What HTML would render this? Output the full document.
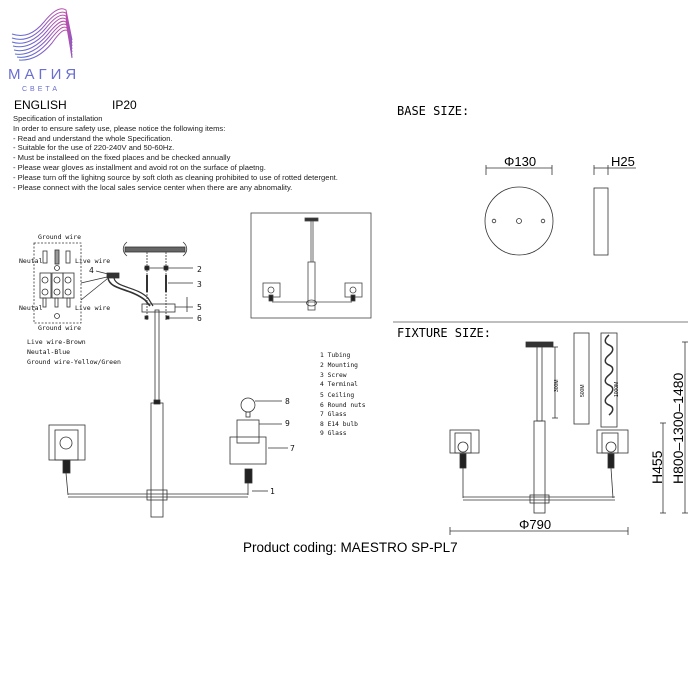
<!DOCTYPE html>
<html><head><meta charset="utf-8"><style>
body{margin:0;background:#fff;}
svg{display:block}
.m{font-family:"DejaVu Sans Mono","Liberation Mono",monospace;}
.s{font-family:"Liberation Sans",sans-serif;}
</style></head><body>
<svg width="700" height="700" viewBox="0 0 700 700" xmlns="http://www.w3.org/2000/svg">
<defs><linearGradient id="g" x1="0" y1="1" x2="1" y2="0"><stop offset="0" stop-color="#5a6fd8"/><stop offset="1" stop-color="#c04aa8"/></linearGradient></defs>
<rect width="700" height="700" fill="#fff"/>
<!-- logo -->
<g fill="none" stroke="url(#g)" stroke-width="1">
<path d="M12,34 C24,38 34,34 44,22 C52,12 60,6 66,10 L72,40"/>
<path d="M12,38 C24,42 35,37 45,25 C53,15 60,10 66,13 L72,43"/>
<path d="M12,42 C24,46 36,40 46,28 C54,18 61,13 66,16 L72,46"/>
<path d="M13,46 C25,49 37,43 47,31 C55,21 61,16 66,19 L72,49"/>
<path d="M14,50 C26,53 38,46 48,34 C56,24 62,19 66,22 L72,52"/>
<path d="M15,54 C27,56 39,49 49,37 C57,27 62,22 67,25 L72,55"/>
<path d="M17,57 C29,59 40,52 50,40 C58,30 63,25 67,28 L72,57"/>
<path d="M19,60 C31,61 42,55 52,43 C59,33 64,28 68,31 L72,58"/>
</g>
<text x="8" y="79" class="s" font-size="15" fill="#6a6fd0" letter-spacing="4">МАГИЯ</text>
<text x="22" y="91" class="s" font-size="7" fill="#6a6fd0" letter-spacing="3">СВЕТА</text>
<!-- text -->
<text x="14" y="109" class="s" font-size="12">ENGLISH</text>
<text x="112" y="109" class="s" font-size="12">IP20</text>
<g class="s" font-size="7.6" fill="#222">
<text x="13" y="121">Specification of installation</text>
<text x="13" y="131">In order to ensure safety use, please notice the following items:</text>
<text x="13" y="141">- Read and understand the whole Specification.</text>
<text x="13" y="150">- Suitable for the use of 220-240V and 50-60Hz.</text>
<text x="13" y="160">- Must be installeed on the fixed places and be checked annually</text>
<text x="13" y="170">- Please wear gloves as installment and avoid rot on the surface of plaetng.</text>
<text x="13" y="180">- Please turn off the lighitng source by soft cloth as cleaning prohibited to use of rotted detergent.</text>
<text x="13" y="190">- Please connect with the local sales service center when there are any abnomality.</text>
</g>
<!-- base size -->
<text x="397" y="115" class="m" font-size="12">BASE SIZE:</text>
<g stroke="#333" fill="none" stroke-width="0.8">
<line x1="486" y1="168" x2="552" y2="168"/><line x1="486" y1="165" x2="486" y2="175"/><line x1="552" y1="165" x2="552" y2="175"/>
<line x1="594" y1="168" x2="608" y2="168"/><line x1="594" y1="165" x2="594" y2="175"/><line x1="608" y1="165" x2="608" y2="175"/><line x1="608" y1="168" x2="636" y2="168"/>
<circle cx="519" cy="221" r="34"/><circle cx="494" cy="221" r="1.8"/><circle cx="519" cy="221" r="2.5"/><circle cx="543" cy="221" r="1.8"/>
<rect x="594" y="188" width="14" height="67"/>
</g>
<text x="504" y="166" class="s" font-size="13">Φ130</text>
<text x="611" y="166" class="s" font-size="13">H25</text>
<!-- fixture size -->
<line x1="393" y1="322" x2="688" y2="322" stroke="#555" stroke-width="0.8"/>
<text x="397" y="337" class="m" font-size="12">FIXTURE SIZE:</text>
<g stroke="#333" fill="none" stroke-width="0.8">
<rect x="526" y="342" width="27" height="5" fill="#333"/>
<rect x="537" y="347" width="5" height="74" fill="#fff"/>
<rect x="534" y="421" width="11" height="92"/>
<rect x="530" y="495" width="19" height="8"/>
<line x1="463" y1="497" x2="615" y2="497"/><line x1="463" y1="500" x2="615" y2="500"/>
<rect x="450" y="430" width="29" height="23"/><rect x="455" y="433" width="16" height="20"/><circle cx="463" cy="447" r="5"/>
<rect x="460" y="454" width="6" height="14" fill="#222"/><line x1="463" y1="468" x2="463" y2="498"/>
<rect x="597" y="430" width="31" height="23"/><rect x="602" y="433" width="16" height="20"/><circle cx="611" cy="447" r="5"/>
<rect x="608" y="454" width="6" height="14" fill="#222"/><line x1="611" y1="468" x2="613" y2="498"/>
<line x1="555" y1="347" x2="555" y2="418"/><line x1="552" y1="347" x2="558" y2="347"/><line x1="552" y1="418" x2="558" y2="418"/>
<rect x="574" y="333" width="15" height="91"/>
<rect x="601" y="333" width="16" height="94"/>
<path d="M609,335 c-5,4 -5,8 0,10 c5,2 5,6 0,10 c-5,4 -5,8 0,10 c5,2 5,6 0,10 c-5,4 -5,8 0,10 c5,2 5,6 0,10 c-5,4 -5,8 0,10 c5,2 5,6 0,10" stroke-width="1.5"/>
<line x1="450" y1="531" x2="628" y2="531"/><line x1="450" y1="527" x2="450" y2="535"/><line x1="628" y1="527" x2="628" y2="535"/>
<line x1="663" y1="423" x2="663" y2="513"/><line x1="660" y1="423" x2="666" y2="423"/><line x1="660" y1="513" x2="666" y2="513"/>
<line x1="685" y1="342" x2="685" y2="513"/><line x1="682" y1="342" x2="688" y2="342"/><line x1="682" y1="513" x2="688" y2="513"/>
</g>
<text x="519" y="529" class="s" font-size="13">Φ790</text>
<g class="s" font-size="5">
<text transform="translate(558,392) rotate(-90)">300M</text>
<text transform="translate(584,397) rotate(-90)">500M</text>
<text transform="translate(618,397) rotate(-90)">1000M</text>
</g>
<text transform="translate(662,484) rotate(-90)" class="s" font-size="14">H455</text>
<text transform="translate(683,484) rotate(-90)" class="s" font-size="14">H800–1300–1480</text>
<!-- inset -->
<g stroke="#444" fill="none" stroke-width="0.8">
<rect x="251" y="213" width="120" height="105"/>
<rect x="305" y="218" width="13" height="3" fill="#333"/>
<line x1="311" y1="221" x2="311" y2="262"/><line x1="313" y1="221" x2="313" y2="262"/>
<rect x="308" y="262" width="7" height="48"/>
<ellipse cx="311.5" cy="303" rx="5" ry="3"/>
<line x1="272" y1="302" x2="352" y2="302"/>
<rect x="263" y="283" width="17" height="14"/><circle cx="271" cy="290" r="3"/><rect x="269" y="295" width="4" height="6" fill="#222"/>
<rect x="345" y="283" width="17" height="14"/><circle cx="353" cy="290" r="3"/><rect x="351" y="295" width="4" height="6" fill="#222"/>
</g>
<!-- wiring -->
<g class="m" font-size="6.5" fill="#111">
<text x="38" y="239">Ground wire</text>
<text x="19" y="263">Neutal</text><text x="75" y="263">Live wire</text>
<text x="19" y="310">Neutal</text><text x="75" y="310">Live wire</text>
<text x="38" y="330">Ground wire</text>
<text x="27" y="344">Live wire-Brown</text>
<text x="27" y="354">Neutal-Blue</text>
<text x="27" y="364">Ground wire-Yellow/Green</text>
<text x="89" y="273" font-size="8">4</text>
<text x="197" y="272" font-size="8">2</text>
<text x="197" y="287" font-size="8">3</text>
<text x="197" y="310" font-size="8">5</text>
<text x="197" y="321" font-size="8">6</text>
<text x="285" y="404" font-size="8">8</text>
<text x="285" y="426" font-size="8">9</text>
<text x="290" y="451" font-size="8">7</text>
<text x="270" y="494" font-size="8">1</text>
</g>
<g class="m" font-size="6.3" fill="#111">
<text x="320" y="357">1 Tubing</text><text x="320" y="367">2 Mounting</text><text x="320" y="377">3 Screw</text>
<text x="320" y="386">4 Terminal</text><text x="320" y="397">5 Ceiling</text><text x="320" y="407">6 Round nuts</text>
<text x="320" y="416">7 Glass</text><text x="320" y="426">8 E14 bulb</text><text x="320" y="435">9 Glass</text>
</g>
<g stroke="#333" fill="none" stroke-width="0.8">
<rect x="34" y="243" width="47" height="80" stroke-dasharray="2,1.5"/>
<rect x="43" y="251" width="4" height="12"/><rect x="55" y="250" width="4" height="14" fill="#999"/><rect x="66" y="251" width="4" height="12"/>
<circle cx="57" cy="268" r="2.5"/>
<rect x="40" y="273" width="11" height="25"/><rect x="52" y="273" width="11" height="25"/><rect x="63" y="273" width="11" height="25"/>
<circle cx="45" cy="280" r="3"/><circle cx="57" cy="280" r="3"/><circle cx="68" cy="280" r="3"/>
<circle cx="45" cy="292" r="3"/><circle cx="57" cy="292" r="3"/><circle cx="68" cy="292" r="3"/>
<rect x="43" y="298" width="3" height="9"/><rect x="55" y="298" width="3" height="9"/><rect x="67" y="298" width="3" height="9"/>
<circle cx="57" cy="316" r="2.5"/>
<line x1="81" y1="283" x2="107" y2="277"/><line x1="81" y1="300" x2="107" y2="279"/>
<line x1="96" y1="271" x2="108" y2="274"/>
<rect x="107" y="273" width="12" height="5" fill="#333"/>
<path d="M108,278 C110,290 130,288 145,300 L150,306" stroke-width="1.6"/>
<path d="M114,278 C116,288 136,286 148,298 L153,306" stroke-width="1.2"/>
<rect x="125" y="247" width="60" height="5" fill="#666"/>
<path d="M127,242 C122,246 122,252 127,256 M183,242 C188,246 188,252 183,256"/>
<line x1="147" y1="252" x2="147" y2="320" stroke-dasharray="2,1"/><line x1="166" y1="252" x2="166" y2="320" stroke-dasharray="2,1"/>
<line x1="144" y1="268" x2="193" y2="268"/><rect x="145" y="266" width="4" height="4" fill="#222"/><rect x="164" y="266" width="4" height="4" fill="#222"/>
<line x1="147" y1="275" x2="147" y2="292" stroke-width="2"/><line x1="166" y1="275" x2="166" y2="292" stroke-width="2"/><line x1="168" y1="283" x2="193" y2="283"/>
<rect x="142" y="304" width="33" height="8"/><line x1="175" y1="307" x2="193" y2="307"/><line x1="187" y1="297" x2="187" y2="312"/>
<rect x="145" y="316" width="3" height="3" fill="#222"/><rect x="166" y="316" width="3" height="3" fill="#222"/><line x1="169" y1="318" x2="193" y2="318"/>
<rect x="155" y="310" width="4" height="92"/>
<rect x="151" y="403" width="12" height="114"/>
<rect x="154" y="400" width="6" height="4" fill="#222"/>
<line x1="68" y1="494" x2="248" y2="494"/><line x1="68" y1="497" x2="248" y2="497"/>
<rect x="147" y="490" width="20" height="10"/>
<rect x="49" y="425" width="36" height="35"/><rect x="55" y="430" width="23" height="30"/><circle cx="66" cy="443" r="6"/>
<rect x="63" y="460" width="7" height="13" fill="#222"/><line x1="66" y1="473" x2="68" y2="495"/>
<circle cx="248" cy="405" r="7"/><rect x="246" y="412" width="4" height="5"/><line x1="255" y1="401" x2="282" y2="401"/>
<rect x="237" y="420" width="22" height="23"/><line x1="259" y1="424" x2="282" y2="424"/>
<rect x="230" y="437" width="36" height="27"/><line x1="268" y1="448" x2="288" y2="448"/>
<rect x="245" y="469" width="7" height="14" fill="#222"/><line x1="248" y1="483" x2="248" y2="495"/><line x1="252" y1="491" x2="268" y2="491"/>
</g>
<text x="243" y="552" class="s" font-size="13.5">Product coding: MAESTRO SP-PL7</text>
</svg>
</body></html>
